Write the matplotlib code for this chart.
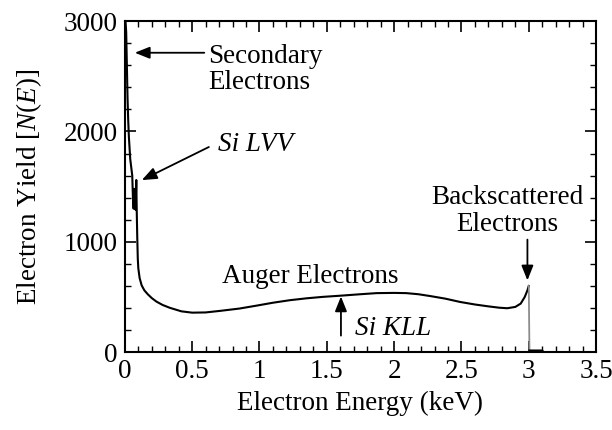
import numpy as np
import matplotlib
matplotlib.use('Agg')
import matplotlib.pyplot as plt
from matplotlib.ticker import MultipleLocator

plt.rcParams['font.family'] = ['Liberation Serif', 'DejaVu Serif']
plt.rcParams['mathtext.fontset'] = 'custom'
plt.rcParams['mathtext.rm'] = 'Liberation Serif'
plt.rcParams['mathtext.it'] = 'Liberation Serif:italic'

# spectrum: energy (keV) and yield N(E)
energy = [0.005, 0.01, 0.015, 0.02, 0.025, 0.03, 0.035, 0.04, 0.045, 0.05,
          0.055, 0.06, 0.065, 0.07, 0.075, 0.08, 0.085, 0.088, 0.092, 0.096,
          0.1, 0.11, 0.125, 0.145, 0.17, 0.2, 0.235, 0.28, 0.334, 0.42,
          0.5, 0.6, 0.706, 0.85, 0.98,
          1.1, 1.226, 1.35, 1.47, 1.605, 1.75, 1.87, 2.0, 2.09, 2.18,
          2.27, 2.38, 2.49, 2.6, 2.7, 2.78, 2.84, 2.9, 2.94, 2.97,
          2.99, 3.0, 3.005, 3.05, 3.1, 3.11]
yld = [3000, 2900, 2600, 2300, 2100, 1950, 1850, 1750, 1700, 1650,
       1600, 1400, 1300, 1480, 1350, 1290, 1560, 1300, 1050, 850,
       760, 670, 605, 560, 525, 490, 458, 428, 402, 370,
       358, 360, 374, 395, 422,
       448, 471, 488, 501, 512, 525, 535, 537, 535, 525,
       508, 485, 455, 432, 415, 403, 398, 410, 440, 500,
       560, 600, 15, 15, 15, 0]

# index of the backscatter edge (vertical drop drawn lighter, as in the print)
edge = energy.index(3.0)

fig = plt.figure(figsize=(6.12, 4.30), dpi=100)
ax = fig.add_axes([0.204, 0.181, 0.770, 0.770])

ax.plot(energy[:edge + 1], yld[:edge + 1], color='black', lw=1.5)
ax.plot(energy[edge:edge + 2], yld[edge:edge + 2], color='0.55', lw=1.3)
ax.plot(energy[edge + 1:], yld[edge + 1:], color='black', lw=1.5)

ax.set_xlim(0, 3.5)
ax.set_ylim(0, 3000)
ax.xaxis.set_major_locator(MultipleLocator(0.5))
ax.xaxis.set_minor_locator(MultipleLocator(0.1))
ax.yaxis.set_major_locator(MultipleLocator(1000))
ax.yaxis.set_minor_locator(MultipleLocator(200))
ax.set_xticks([0, 0.5, 1, 1.5, 2, 2.5, 3, 3.5])
ax.set_xticklabels(['0', '0.5', '1', '1.5', '2', '2.5', '3', '3.5'])
ax.tick_params(which='both', direction='in', top=True, right=True, labelsize=19.5)
ax.tick_params(which='major', length=8, width=1.2, pad=5)
ax.tick_params(which='minor', length=4.5, width=1.0)
for s in ax.spines.values():
    s.set_linewidth(1.5)

ax.set_xlabel('Electron Energy (keV)', fontsize=19.5, labelpad=5)
ax.set_ylabel(r'Electron Yield [$\mathit{N}$($\mathit{E}$)]', fontsize=19.5, labelpad=14)

arr = dict(arrowstyle='-|>,head_length=0.75,head_width=0.3', color='black', lw=1.3,
           mutation_scale=12, shrinkA=0, shrinkB=0)

ax.annotate('', xy=(0.074, 2713), xytext=(0.59, 2713), arrowprops=arr)
ax.text(0.617, 2560, 'Secondary\nElectrons', fontsize=19.5, ha='left', va='center',
        linespacing=1.05)

ax.annotate('', xy=(0.126, 1559), xytext=(0.624, 1859), arrowprops=arr)
ax.text(0.69, 1886, 'Si LVV', fontsize=19.5, style='italic', ha='left', va='center')

ax.text(1.375, 690, 'Auger Electrons', fontsize=19.5, ha='center', va='center')
ax.annotate('', xy=(1.605, 505), xytext=(1.605, 150), arrowprops=arr)
ax.text(1.71, 215, 'Si KLL', fontsize=19.5, style='italic', ha='left', va='center')

ax.text(2.84, 1280, 'Backscattered\nElectrons', fontsize=19.5, ha='center', va='center',
        linespacing=1.1)
ax.annotate('', xy=(2.99, 650), xytext=(2.99, 1020), arrowprops=arr)

fig.savefig('out.png', dpi=100)
